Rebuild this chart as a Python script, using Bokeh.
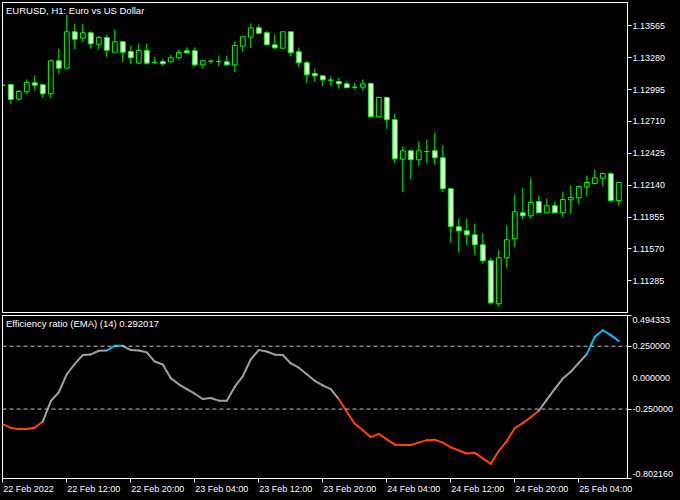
from bokeh.plotting import figure
from bokeh.layouts import column
from bokeh.models import Range1d, FixedTicker, Label, Span, GlobalInlineStyleSheet
from bokeh.embed import file_html
from bokeh.resources import INLINE

# ---------------- data ----------------
symbol_title = "EURUSD, H1:  Euro vs US Dollar"
indicator_title = "Efficiency ratio (EMA) (14) 0.292017"

opens = [1.13033, 1.13040, 1.12909, 1.12975, 1.13055, 1.13038, 1.12957, 1.13252, 1.13186, 1.13511,
         1.13454, 1.13502, 1.13400, 1.13460, 1.13329, 1.13422, 1.13335, 1.13231, 1.13344, 1.13237,
         1.13246, 1.13243, 1.13279, 1.13341, 1.13341, 1.13216, 1.13249, 1.13246, 1.13243, 1.13216,
         1.13383, 1.13463, 1.13547, 1.13502, 1.13395, 1.13365, 1.13511, 1.13333, 1.13234, 1.13138,
         1.13118, 1.13079, 1.13067, 1.13046, 1.13016, 1.13016, 1.13049, 1.12751, 1.12924, 1.12725,
         1.12372, 1.12447, 1.12367, 1.12441, 1.12447, 1.12385, 1.12108, 1.11768, 1.11732, 1.11696,
         1.11607, 1.11464, 1.11079, 1.11491, 1.11661, 1.11893, 1.11866, 1.11994, 1.11893, 1.11956,
         1.11893, 1.12009, 1.12027, 1.12125, 1.12155, 1.12202, 1.12242, 1.12003]
highs = [1.13040, 1.13046, 1.12993, 1.13085, 1.13123, 1.13046, 1.13266, 1.13359, 1.13663, 1.13583,
         1.13583, 1.13517, 1.13478, 1.13487, 1.13529, 1.13425, 1.13386, 1.13409, 1.13409, 1.13284,
         1.13270, 1.13306, 1.13353, 1.13371, 1.13371, 1.13261, 1.13255, 1.13299, 1.13299, 1.13425,
         1.13467, 1.13586, 1.13577, 1.13520, 1.13487, 1.13511, 1.13511, 1.13371, 1.13252, 1.13181,
         1.13118, 1.13112, 1.13100, 1.13067, 1.13055, 1.13085, 1.13058, 1.12933, 1.12933, 1.12778,
         1.12486, 1.12447, 1.12531, 1.12548, 1.12611, 1.12495, 1.12108, 1.11842, 1.11842, 1.11797,
         1.11708, 1.11491, 1.11562, 1.11779, 1.12057, 1.12117, 1.12202, 1.12048, 1.12021, 1.11994,
         1.12084, 1.12137, 1.12137, 1.12226, 1.12280, 1.12253, 1.12256, 1.12164]
lows = [1.13022, 1.12864, 1.12897, 1.12951, 1.12987, 1.12918, 1.12918, 1.13136, 1.13177, 1.13353,
        1.13418, 1.13359, 1.13350, 1.13284, 1.13329, 1.13240, 1.13225, 1.13225, 1.13216, 1.13225,
        1.13204, 1.13240, 1.13270, 1.13315, 1.13201, 1.13183, 1.13225, 1.13204, 1.13210, 1.13150,
        1.13329, 1.13365, 1.13490, 1.13395, 1.13356, 1.13356, 1.13293, 1.13195, 1.13052, 1.13061,
        1.13025, 1.13025, 1.13002, 1.13011, 1.12998, 1.12987, 1.12739, 1.12751, 1.12641, 1.12336,
        1.12077, 1.12191, 1.12310, 1.12336, 1.12322, 1.12077, 1.11625, 1.11541, 1.11607, 1.11518,
        1.11437, 1.11070, 1.11053, 1.11401, 1.11586, 1.11830, 1.11839, 1.11893, 1.11893, 1.11893,
        1.11857, 1.11884, 1.11967, 1.12039, 1.12146, 1.12128, 1.11994, 1.11958]
closes = [1.13033, 1.12906, 1.12978, 1.13058, 1.13034, 1.12957, 1.13252, 1.13186, 1.13511, 1.13445,
          1.13502, 1.13404, 1.13460, 1.13347, 1.13422, 1.13329, 1.13279, 1.13344, 1.13231, 1.13237,
          1.13225, 1.13279, 1.13326, 1.13324, 1.13216, 1.13252, 1.13249, 1.13246, 1.13216, 1.13389,
          1.13467, 1.13547, 1.13499, 1.13395, 1.13368, 1.13511, 1.13324, 1.13234, 1.13127, 1.13118,
          1.13082, 1.13079, 1.13046, 1.13011, 1.13016, 1.13046, 1.12754, 1.12924, 1.12725, 1.12376,
          1.12447, 1.12367, 1.12447, 1.12441, 1.12385, 1.12108, 1.11771, 1.11732, 1.11696, 1.11607,
          1.11464, 1.11088, 1.11491, 1.11652, 1.11902, 1.11866, 1.11985, 1.11893, 1.11956, 1.11893,
          1.12012, 1.12030, 1.12128, 1.12164, 1.12206, 1.12244, 1.12003, 1.12164]

er_values = [-0.369, -0.400, -0.408, -0.408, -0.398, -0.349, -0.186, -0.116, 0.027, 0.110,
             0.180, 0.185, 0.214, 0.216, 0.253, 0.253, 0.219, 0.216, 0.201, 0.128,
             0.105, -0.004, -0.053, -0.092, -0.128, -0.170, -0.162, -0.183, -0.183, -0.072,
             0.011, 0.146, 0.219, 0.208, 0.183, 0.180, 0.113, 0.079, 0.027, -0.025,
             -0.061, -0.092, -0.170, -0.271, -0.367, -0.419, -0.473, -0.447, -0.491, -0.533,
             -0.536, -0.536, -0.517, -0.497, -0.494, -0.517, -0.554, -0.579, -0.603, -0.598,
             -0.642, -0.686, -0.582, -0.505, -0.401, -0.362, -0.315, -0.263, -0.175, -0.089,
             -0.007, 0.047, 0.117, 0.187, 0.325, 0.377, 0.338, 0.292]

price_ticks = [1.13565, 1.13280, 1.12995, 1.12710, 1.12425, 1.12140, 1.11855, 1.11570, 1.11285]
price_tick_labels = ["1.13565", "1.13280", "1.12995", "1.12710", "1.12425",
                     "1.12140", "1.11855", "1.11570", "1.11285"]
time_tick_bars = [0, 8, 16, 24, 32, 40, 48, 56, 64, 72]
time_tick_labels = ["22 Feb 2022", "22 Feb 12:00", "22 Feb 20:00", "23 Feb 04:00", "23 Feb 12:00",
                    "23 Feb 20:00", "24 Feb 04:00", "24 Feb 12:00", "24 Feb 20:00", "25 Feb 04:00"]
er_levels = [0.25, -0.25]
er_min, er_max = -0.802160, 0.494333
er_label_values = [er_max, 0.25, 0.0, -0.25, er_min]
er_label_texts = ["0.494333", "0.250000", "0.000000", "-0.250000", "-0.802160"]
er_tick_values = [er_max, 0.25, -0.25, er_min]
price_min, price_max = 1.110016, 1.137733

# ---------------- styling / geometry ----------------
FONT = "Liberation Sans"
GREEN = "#00FF00"
WHITE = "#FFFFFF"
BLUE = "#00BFFF"
ORANGE = "#FF4500"
GRAY = "#A0A0A0"
FIG_W = 680
BORDER_L, BORDER_R = 2, 53
FRAME_W = FIG_W - BORDER_L - BORDER_R
MAIN_H, MAIN_TOP, MAIN_BOTTOM = 313, 2, 1
LOWER_H, LOWER_TOP, LOWER_BOTTOM = 187, 2, 22
LOWER_FRAME_H = LOWER_H - LOWER_TOP - LOWER_BOTTOM
AX_FONT_PX = 9.0

x_start, x_end = -0.0375, 78.0875
xr = Range1d(x_start, x_end)
px_per_bar = FRAME_W / (x_end - x_start)
px_per_er = LOWER_FRAME_H / (er_max - er_min)

# approximate advance widths (Arial/Liberation metrics, per 1000 em)
CHAR_W = {" ": 278, ":": 278, ".": 278, "-": 333, "F": 611, "e": 556, "b": 556}
def text_width_px(s, size):
    return sum(CHAR_W.get(ch, 556) for ch in s) / 1000.0 * size


def style_axis(ax):
    ax.axis_line_color = WHITE
    ax.major_tick_line_color = WHITE
    ax.minor_tick_line_color = WHITE
    ax.major_tick_in = 0
    ax.major_tick_out = 4
    ax.minor_tick_in = 0
    ax.minor_tick_out = 4
    ax.major_label_text_color = WHITE
    ax.major_label_text_font = FONT
    ax.major_label_text_font_size = f"{AX_FONT_PX}px"
    ax.major_label_standoff = 1


# ---------------- main price panel ----------------
p1 = figure(width=FIG_W, height=MAIN_H, x_range=xr, y_range=Range1d(price_min, price_max),
            output_backend="svg", toolbar_location=None, x_axis_location=None,
            y_axis_location="right", min_border_left=BORDER_L, min_border_right=BORDER_R,
            min_border_top=MAIN_TOP, min_border_bottom=MAIN_BOTTOM,
            background_fill_color="black", border_fill_color="black",
            outline_line_color=WHITE, outline_line_width=1)
p1.grid.visible = False

n = len(opens)
idx = list(range(n))
body_top = [max(o, c) for o, c in zip(opens, closes)]
body_bot = [min(o, c) for o, c in zip(opens, closes)]
body_fill = [WHITE if c < o else "#000000" for o, c in zip(opens, closes)]

p1.segment(x0=idx, y0=highs, x1=idx, y1=lows, line_color=GREEN, line_width=1)
p1.vbar(x=idx, width=0.6, top=body_top, bottom=body_bot, fill_color=body_fill,
        line_color=GREEN, line_width=1)

ya = p1.yaxis[0]
style_axis(ya)
ya.ticker = FixedTicker(ticks=price_ticks)
ya.major_label_overrides = dict(zip(price_ticks, price_tick_labels))
ya.minor_tick_line_color = None

p1.add_layout(Label(x=x_start, y=price_max, x_offset=3.5, y_offset=-2.5, text=symbol_title,
                    text_color=WHITE, text_font=FONT, text_font_size="9.5px",
                    text_baseline="top", text_align="left"))

# ---------------- indicator panel ----------------
p2 = figure(width=FIG_W, height=LOWER_H, x_range=xr, y_range=Range1d(er_min, er_max),
            output_backend="svg", toolbar_location=None, x_axis_location="below",
            y_axis_location="right", min_border_left=BORDER_L, min_border_right=BORDER_R,
            min_border_top=LOWER_TOP, min_border_bottom=LOWER_BOTTOM,
            background_fill_color="black", border_fill_color="black",
            outline_line_color=WHITE, outline_line_width=1)
p2.grid.visible = False

for lv in er_levels:
    p2.add_layout(Span(location=lv, dimension="width", line_color="#C8C8C8",
                       line_width=1, line_dash="4 3"))

def er_color(v):
    if v > 0.25:
        return BLUE
    if v < -0.25:
        return ORANGE
    return GRAY

seg_colors = [er_color(v) for v in er_values[1:]]
p2.segment(x0=idx[:-1], y0=er_values[:-1], x1=idx[1:], y1=er_values[1:],
           line_color=seg_colors, line_width=2, line_cap="round")

# right axis: tick marks (minor) at levels/extremes, labels (major, no marks) nudged inside
shift = round(4.5 / px_per_er, 6)
label_pos = [round(v, 6) for v in er_label_values]
label_pos[0] = round(er_max - shift, 6)
label_pos[-1] = round(er_min + shift, 6)
ya2 = p2.yaxis[0]
style_axis(ya2)
ya2.ticker = FixedTicker(ticks=label_pos, minor_ticks=er_tick_values)
ya2.major_label_overrides = dict(zip(label_pos, er_label_texts))
ya2.major_tick_line_color = None

# bottom axis: tick marks (minor) at bars, labels (major, no marks) left-aligned at tick
label_x = [round(b + (text_width_px(t, AX_FONT_PX) / 2 + 0.5) / px_per_bar, 4)
           for b, t in zip(time_tick_bars, time_tick_labels)]
xa = p2.xaxis[0]
style_axis(xa)
xa.ticker = FixedTicker(ticks=label_x, minor_ticks=time_tick_bars)
xa.major_label_overrides = dict(zip(label_x, time_tick_labels))
xa.major_tick_line_color = None

p2.add_layout(Label(x=x_start, y=er_max, x_offset=3.5, y_offset=-2.5, text=indicator_title,
                    text_color=WHITE, text_font=FONT, text_font_size="9.5px",
                    text_baseline="top", text_align="left"))

layout = column(p1, p2, spacing=0)
layout.stylesheets = [GlobalInlineStyleSheet(css="body { background-color: #000000; }")]

open("out.html", "w").write(file_html(layout, INLINE))
